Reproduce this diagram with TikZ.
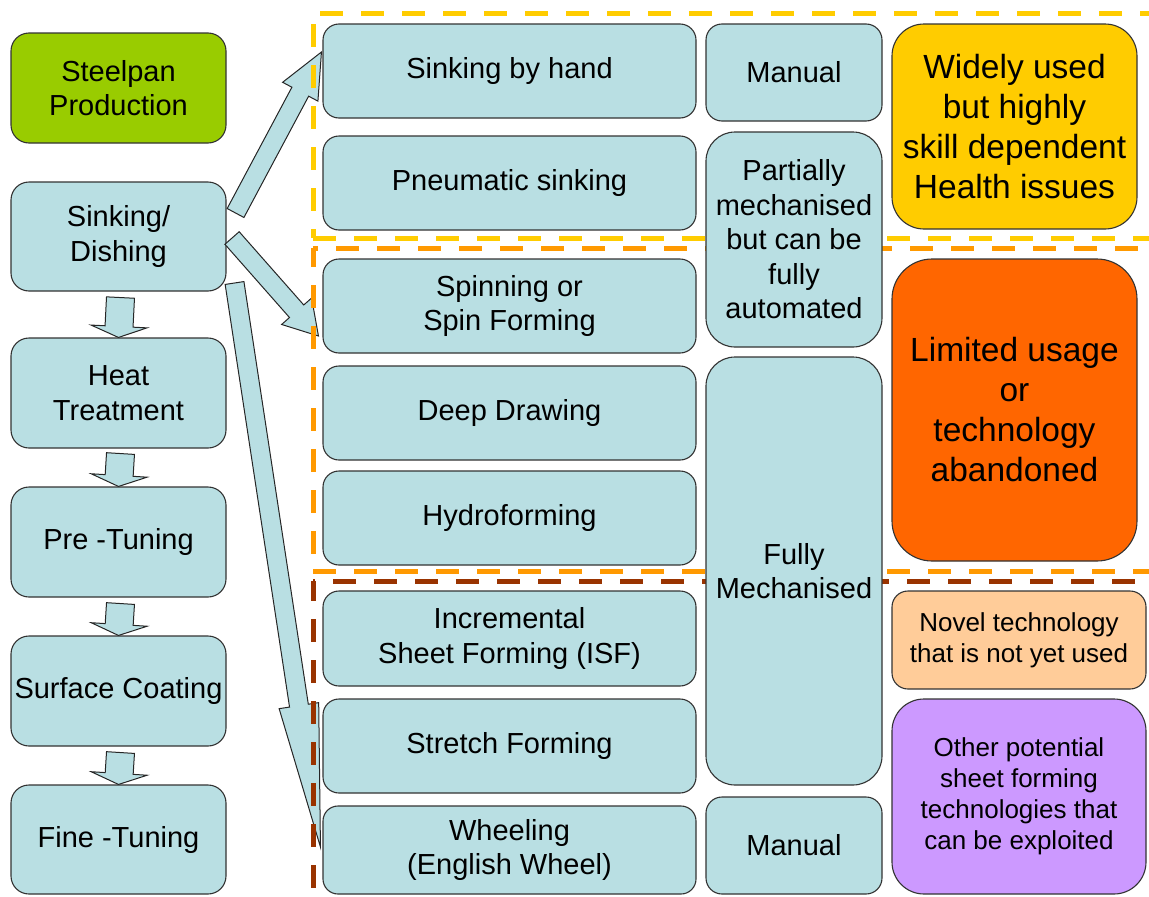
\documentclass[tikz,border=0pt]{standalone}
\usepackage{fontspec}
\setmainfont{Liberation Sans}
\usetikzlibrary{calc}

\definecolor{boxblue}{RGB}{185,223,227}
\definecolor{steelgreen}{RGB}{153,204,0}
\definecolor{goldbox}{RGB}{255,204,0}
\definecolor{redorange}{RGB}{255,102,0}
\definecolor{peach}{RGB}{255,204,153}
\definecolor{lilac}{RGB}{204,153,255}
\definecolor{dashyellow}{RGB}{255,204,0}
\definecolor{dashorange}{RGB}{255,153,0}
\definecolor{dashbrown}{RGB}{153,51,0}

\tikzset{
  box/.style={draw=black!80, line width=1.1pt, fill=boxblue, inner sep=0pt,
    align=center, font=\fontsize{29}{34.5}\selectfont},
  % place a box by its top-left and bottom-right corners
  span/.style n args={4}{at={({(#1+#3)/2},{(#2+#4)/2})},
    minimum width={(#3-#1)*1pt}, minimum height={(#4-#2)*1pt}},
  bigtext/.style={font=\fontsize{33.5}{40}\selectfont},
  smalltext/.style={font=\fontsize{26}{31}\selectfont},
  arrowbody/.style={draw=black!85, line width=1pt, fill=boxblue, line join=miter},
  zone/.style={line width=5pt, dash pattern=on 23pt off 18pt},
}

% block arrow: tail, tip, shaft half width, head half width, head length
\newcommand\blockarrow[5]{%
  \coordinate (ba-t) at (#1);
  \coordinate (ba-h) at (#2);
  \coordinate (ba-n) at ($(ba-h)!#5!(ba-t)$);
  \draw[arrowbody]
    ($(ba-t)!#3!90:(ba-h)$) -- ($(ba-n)!#3!90:(ba-h)$) --
    ($(ba-n)!#4!90:(ba-h)$) -- (ba-h) --
    ($(ba-n)!#4!-90:(ba-h)$) -- ($(ba-n)!#3!-90:(ba-h)$) --
    ($(ba-t)!#3!-90:(ba-h)$) -- cycle;}

\begin{document}
\begin{tikzpicture}[x=1pt,y=-1pt]
\useasboundingbox (0,0) rectangle (1149,897);
\clip (0,0) rectangle (1149,897);

% process chain
\node[box, rounded corners=18pt, fill=steelgreen, span={11}{33}{226}{143}] (steel) {Steelpan\\Production};
\node[box, rounded corners=18pt, span={11}{182}{226}{291}] (sink) {Sinking/\\Dishing};
\node[box, rounded corners=18pt, span={11}{338}{226}{448}] (heat) {Heat\\Treatment};
\node[box, rounded corners=18pt, span={11}{487}{226}{597}] (pretune) {Pre -Tuning};
\node[box, rounded corners=18pt, span={11}{636}{226}{746}] (coat) {Surface Coating};
\node[box, rounded corners=18pt, span={11}{785}{226}{894}] (finetune) {Fine -Tuning};

% forming methods
\node[box, rounded corners=16pt, span={323}{24}{696}{118}] (hand) {Sinking by hand};
\node[box, rounded corners=16pt, span={323}{136}{696}{230}] (pneu) {Pneumatic sinking};
\node[box, rounded corners=16pt, span={323}{259}{696}{353}] (spin) {Spinning or\\Spin Forming};
\node[box, rounded corners=16pt, span={323}{366}{696}{460}] (deep) {Deep Drawing};
\node[box, rounded corners=16pt, span={323}{471}{696}{565}] (hydro) {Hydroforming};
\node[box, rounded corners=16pt, span={323}{591}{696}{686}] (isf) {Incremental\\Sheet Forming (ISF)};
\node[box, rounded corners=16pt, span={323}{699}{696}{793}] (stretch) {Stretch Forming};
\node[box, rounded corners=15pt, span={323}{806}{696}{894}] (wheel) {Wheeling\\(English Wheel)};

% block arrows
\blockarrow{$(sink.south)+(2,6)$}{heat.north}{14pt}{28pt}{11pt}
\blockarrow{$(heat.south)+(2,5)$}{pretune.north}{14pt}{28pt}{11pt}
\blockarrow{$(pretune.south)+(2,6)$}{coat.north}{14pt}{28pt}{11pt}
\blockarrow{$(coat.south)+(2,6)$}{finetune.north}{14pt}{28pt}{11pt}
\blockarrow{$(sink.east)+(9,-23.5)$}{$(hand.west)+(-1,-19)$}{9.5pt}{20pt}{45pt}
\blockarrow{$(sink.east)+(5.5,1.5)$}{$(spin.west)+(-4,30)$}{9.5pt}{20pt}{33pt}
\blockarrow{$(sink.east)+(8,46.5)$}{$(wheel.west)+(-2,-3)$}{9.5pt}{20pt}{143pt}

% zones
\draw[zone, draw=dashyellow, dash phase=34pt] (313,13) -- (1160,13);
\draw[zone, draw=dashyellow, dash phase=30pt] (313,13) -- (313,238);
\draw[zone, draw=dashyellow] (313,238) -- (1160,238);
\draw[zone, draw=dashorange, dash phase=18pt] (313,248) -- (1160,248);
\draw[zone, draw=dashorange, dash phase=4pt] (313,248) -- (313,571);
\draw[zone, draw=dashorange] (313,571) -- (1160,571);
\draw[zone, draw=dashbrown, dash phase=21pt] (313,581) -- (1160,581);
\draw[zone, draw=dashbrown, dash phase=3pt] (313,581) -- (313,900);

% degree of mechanisation
\node[box, rounded corners=16pt, span={706}{24}{882}{121}] (man1) {Manual};
\node[box, rounded corners=29pt, span={706}{132}{882}{347}] (partial) {Partially\\mechanised\\but can be\\fully\\automated};
\node[box, rounded corners=29pt, span={706}{357}{882}{785}] (fully) {Fully\\Mechanised};
\node[box, rounded corners=16pt, span={706}{797}{882}{894}] (man2) {Manual};

% assessment
\node[box, bigtext, rounded corners=32pt, fill=goldbox, span={892}{24}{1137}{229}] (used) {Widely used\\but highly\\skill dependent\\Health issues};
\node[box, bigtext, rounded corners=40pt, fill=redorange, span={892}{259}{1137}{561}] (limited) {Limited usage\\or\\technology\\abandoned};
\node[box, smalltext, rounded corners=16pt, fill=peach, span={892}{591}{1146}{689}] (novel) {Novel technology\\that is not yet used};
\node[box, smalltext, rounded corners=32pt, fill=lilac, span={892}{699}{1146}{894}] (other) {Other potential\\sheet forming\\technologies that\\can be exploited};
\end{tikzpicture}
\end{document}
